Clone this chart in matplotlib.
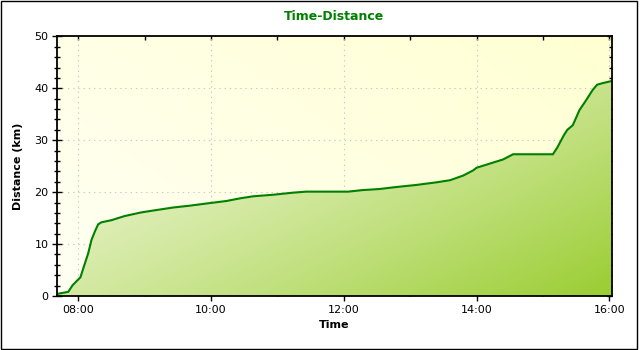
import numpy as np
import matplotlib
matplotlib.use("Agg")
import matplotlib.pyplot as plt
from matplotlib.patches import Polygon, Rectangle
from matplotlib.colors import to_rgb
from matplotlib.ticker import MultipleLocator, FixedLocator, NullFormatter

# Track log: clock time of each sample and cumulative distance
times = ["07:41", "07:51", "07:55", "08:02", "08:05", "08:09", "08:12", "08:15",
         "08:18", "08:21", "08:30", "08:42", "08:57", "09:09", "09:26", "09:41",
         "09:59", "10:14", "10:26", "10:38", "10:56", "11:14", "11:26", "11:56",
         "12:04", "12:17", "12:32", "12:48", "13:06", "13:24", "13:36", "13:48",
         "13:57", "14:00", "14:12", "14:24", "14:33", "15:09", "15:13", "15:19",
         "15:22", "15:27", "15:33", "15:39", "15:45", "15:49", "15:54", "16:02"]
distance_km = [0.4, 0.8, 2.1, 3.6, 5.6, 8.2, 10.8, 12.4,
               13.8, 14.2, 14.6, 15.4, 16.1, 16.5, 17.05, 17.4,
               17.9, 18.3, 18.8, 19.2, 19.5, 19.9, 20.1, 20.1,
               20.1, 20.4, 20.6, 21.0, 21.4, 21.9, 22.3, 23.2,
               24.2, 24.7, 25.5, 26.3, 27.3, 27.3, 28.6, 31.0,
               32.0, 32.9, 35.8, 37.7, 39.7, 40.7, 41.0, 41.4]

x_tick_hours = [8, 10, 12, 14, 16]
x_tick_labels = ["08:00", "10:00", "12:00", "14:00", "16:00"]
y_ticks = [0, 10, 20, 30, 40, 50]

hours = np.array([int(t[:2]) + int(t[3:]) / 60 for t in times])
dist = np.array(distance_km)

W, H = 640, 350
fig = plt.figure(figsize=(W / 100, H / 100), dpi=100)
fig.patch.set_facecolor("white")

x0, x1 = 7.685, 16.036
y0, y1 = 0, 50
ax = fig.add_axes([57.3 / W, 54 / H, 554.4 / W, 259.6 / H])
ax.set_xlim(x0, x1)
ax.set_ylim(y0, y1)
ax.set_facecolor("none")

# Diagonal gradients (bottom-left -> top-right for backdrop, top-left -> bottom-right for fill)
nx, ny = 400, 200
u = np.linspace(0, 1, nx)[None, :]
v = np.linspace(1, 0, ny)[:, None]  # row 0 is top


def blend(c0, c1, t):
    c0, c1 = np.array(to_rgb(c0)), np.array(to_rgb(c1))
    t = np.clip(t, 0, 1)[..., None]
    return c0 * (1 - t) + c1 * t


t_bg = 0.6 * u + 0.4 * v
bg = blend("#fffff4", "#ffffd2", t_bg)
ax.imshow(bg, extent=[x0, x1, y0, y1], aspect="auto", zorder=0, interpolation="bilinear")

# Grid at major ticks
for xv in x_tick_hours:
    ax.axvline(xv, color="#c8c8c8", lw=0.8, dashes=(1.2, 3.5), zorder=1)
for yv in y_ticks[1:-1]:
    ax.axhline(yv, color="#c8c8c8", lw=0.8, dashes=(1.2, 3.5), zorder=1)

t_fill = (0.52 * u + 0.48 * (1 - v)) ** 1.35
fill_img = blend("#f6fae6", "#9acd32", t_fill)
im = ax.imshow(fill_img, extent=[x0, x1, y0, y1], aspect="auto", zorder=2,
               interpolation="bilinear")
verts = list(zip(hours, dist)) + [(hours[-1], 0), (hours[0], 0)]
area = Polygon(verts, closed=True, facecolor="none", edgecolor="none",
               transform=ax.transData)
ax.add_patch(area)
im.set_clip_path(area)

ax.plot(hours, dist, color="#008000", lw=1.5, zorder=3, solid_joinstyle="miter")

# Ticks: left/bottom cross the spine, top/right point inward
ax.xaxis.set_major_locator(FixedLocator(x_tick_hours))
ax.set_xticklabels(x_tick_labels)
ax.xaxis.set_minor_locator(MultipleLocator(1))
ax.yaxis.set_major_locator(FixedLocator(y_ticks))
ax.yaxis.set_minor_locator(MultipleLocator(2))
ax.tick_params(which="major", direction="inout", length=6.5, width=1.0,
               labelsize=8, colors="black", pad=3)
ax.tick_params(which="minor", direction="inout", length=4.5, width=1.0)
ax.tick_params(axis="x", which="minor", direction="in", length=3)

secx = ax.secondary_xaxis("top")
secx.xaxis.set_major_locator(FixedLocator(x_tick_hours))
secx.xaxis.set_minor_locator(MultipleLocator(1))
secx.xaxis.set_major_formatter(NullFormatter())
secx.tick_params(which="both", direction="in", length=3, width=1.0)
secx.spines["top"].set_visible(False)

secy = ax.secondary_yaxis("right")
secy.yaxis.set_major_locator(FixedLocator(y_ticks))
secy.yaxis.set_minor_locator(MultipleLocator(2))
secy.yaxis.set_major_formatter(NullFormatter())
secy.tick_params(which="major", direction="in", length=3.5, width=1.0)
secy.tick_params(which="minor", direction="in", length=2.5, width=1.0)
secy.spines["right"].set_visible(False)

for s in ax.spines.values():
    s.set_linewidth(1.3)
    s.set_color("black")
    s.set_zorder(5)

ax.set_xlabel("Time", fontsize=8, fontweight="bold", labelpad=4)
ax.set_ylabel("Distance (km)", fontsize=8, fontweight="bold", labelpad=8)

fig.text(0.5 * (57.3 + 611.7) / W, 1 - 17 / H, "Time-Distance", ha="center",
         va="center", fontsize=9, fontweight="bold", color="#008000")

# Outer frame
fig.add_artist(Rectangle((0.5 / W, 1 - 348.5 / H), 636 / W, 348 / H,
                         transform=fig.transFigure, fill=False,
                         edgecolor="black", lw=1.0))

fig.savefig("out.png", dpi=100)
